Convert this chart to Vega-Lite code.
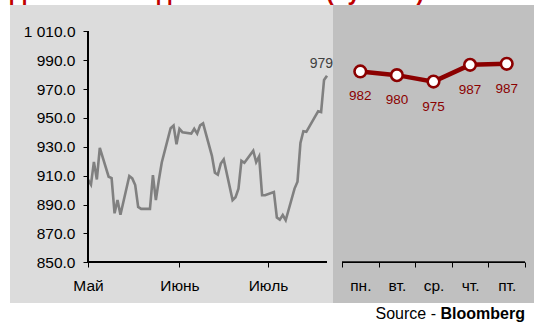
{
  "$schema": "https://vega.github.io/schema/vega-lite/v6.json",
  "padding": {"left": 10, "top": -18, "right": 2, "bottom": 0},
  "background": "white",
  "title": {
    "text": "Динамика индекса S&P 500 (пункты)",
    "anchor": "start",
    "color": "#C00000",
    "fontSize": 23,
    "fontWeight": "bold",
    "offset": 0
  },
  "datasets": {
    "sp500": [
      {"date": "2009-05-04", "close": 907.24},
      {"date": "2009-05-05", "close": 903.80},
      {"date": "2009-05-06", "close": 919.53},
      {"date": "2009-05-07", "close": 907.39},
      {"date": "2009-05-08", "close": 929.23},
      {"date": "2009-05-11", "close": 909.24},
      {"date": "2009-05-12", "close": 908.35},
      {"date": "2009-05-13", "close": 883.92},
      {"date": "2009-05-14", "close": 893.07},
      {"date": "2009-05-15", "close": 882.88},
      {"date": "2009-05-18", "close": 909.71},
      {"date": "2009-05-19", "close": 908.13},
      {"date": "2009-05-20", "close": 903.47},
      {"date": "2009-05-21", "close": 888.33},
      {"date": "2009-05-22", "close": 887.00},
      {"date": "2009-05-25", "close": 887.00},
      {"date": "2009-05-26", "close": 910.33},
      {"date": "2009-05-27", "close": 893.06},
      {"date": "2009-05-28", "close": 906.83},
      {"date": "2009-05-29", "close": 919.14},
      {"date": "2009-06-01", "close": 942.87},
      {"date": "2009-06-02", "close": 944.74},
      {"date": "2009-06-03", "close": 931.76},
      {"date": "2009-06-04", "close": 942.46},
      {"date": "2009-06-05", "close": 940.09},
      {"date": "2009-06-08", "close": 939.14},
      {"date": "2009-06-09", "close": 942.43},
      {"date": "2009-06-10", "close": 939.15},
      {"date": "2009-06-11", "close": 944.89},
      {"date": "2009-06-12", "close": 946.21},
      {"date": "2009-06-15", "close": 923.72},
      {"date": "2009-06-16", "close": 911.97},
      {"date": "2009-06-17", "close": 910.71},
      {"date": "2009-06-18", "close": 918.37},
      {"date": "2009-06-19", "close": 921.23},
      {"date": "2009-06-22", "close": 893.04},
      {"date": "2009-06-23", "close": 895.10},
      {"date": "2009-06-24", "close": 900.94},
      {"date": "2009-06-25", "close": 920.26},
      {"date": "2009-06-26", "close": 918.90},
      {"date": "2009-06-29", "close": 927.23},
      {"date": "2009-06-30", "close": 919.32},
      {"date": "2009-07-01", "close": 923.33},
      {"date": "2009-07-02", "close": 896.42},
      {"date": "2009-07-03", "close": 896.42},
      {"date": "2009-07-06", "close": 898.72},
      {"date": "2009-07-07", "close": 881.03},
      {"date": "2009-07-08", "close": 879.56},
      {"date": "2009-07-09", "close": 882.68},
      {"date": "2009-07-10", "close": 879.13},
      {"date": "2009-07-13", "close": 901.05},
      {"date": "2009-07-14", "close": 905.84},
      {"date": "2009-07-15", "close": 932.68},
      {"date": "2009-07-16", "close": 940.74},
      {"date": "2009-07-17", "close": 940.38},
      {"date": "2009-07-20", "close": 951.13},
      {"date": "2009-07-21", "close": 954.58},
      {"date": "2009-07-22", "close": 954.07},
      {"date": "2009-07-23", "close": 976.29},
      {"date": "2009-07-24", "close": 979.26}
    ],
    "week": [
      {"day": "пн.", "close": 982.18},
      {"day": "вт.", "close": 979.62},
      {"day": "ср.", "close": 975.15},
      {"day": "чт.", "close": 986.75},
      {"day": "пт.", "close": 987.48}
    ]
  },
  "vconcat": [
    {
      "hconcat": [
        {
          "width": 323,
          "height": 298,
          "view": {"fill": "#dcdcdc", "stroke": null},
          "data": {"name": "sp500"},
          "layer": [
            {
              "mark": {"type": "line", "color": "#808080", "strokeWidth": 2.6},
              "encoding": {
                "x": {
                  "field": "date",
                  "type": "temporal",
                  "scale": {
                    "type": "utc",
                    "domain": [
                      {"year": 2009, "month": 4, "date": 7, "hours": 13, "minutes": 34, "utc": true},
                      {"year": 2009, "month": 7, "date": 26, "hours": 0, "minutes": 48, "utc": true}
                    ]
                  },
                  "axis": {
                    "orient": "bottom",
                    "offset": -41,
                    "values": [
                      {"year": 2009, "month": 5, "date": 4, "utc": true},
                      {"year": 2009, "month": 6, "date": 4, "utc": true},
                      {"year": 2009, "month": 7, "date": 4, "utc": true}
                    ],
                    "tickCount": 20,
                    "labelExpr": "['Май', 'Июнь', 'Июль'][utcmonth(datum.value) - 4]",
                    "domain": false,
                    "grid": false,
                    "tickSize": 5,
                    "tickColor": "black",
                    "labelColor": "black",
                    "labelFontSize": 15.5,
                    "labelPadding": 11,
                    "labelFlush": false,
                    "labelOverlap": false,
                    "title": null
                  }
                },
                "y": {
                  "field": "close",
                  "type": "quantitative",
                  "scale": {"domain": [821.8, 1028.2], "nice": false, "zero": false},
                  "axis": {
                    "orient": "left",
                    "offset": -78,
                    "values": [850, 870, 890, 910, 930, 950, 970, 990, 1010],
                    "tickCount": 20,
                    "labelExpr": "replace(format(datum.value, ',.1f'), ',', ' ')",
                    "domain": false,
                    "grid": false,
                    "tickSize": 5,
                    "tickColor": "black",
                    "labelColor": "black",
                    "labelFontSize": 15.5,
                    "labelPadding": 8,
                    "labelOverlap": false,
                    "labelFlush": false,
                    "title": null
                  }
                }
              }
            },
            {
              "transform": [{"filter": "time(datum.date) == utc(2009, 6, 24)"}],
              "mark": {"type": "text", "align": "right", "baseline": "alphabetic", "dx": 6, "dy": -8, "fontSize": 14, "color": "#404040"},
              "encoding": {
                "x": {"field": "date", "type": "temporal"},
                "y": {"field": "close", "type": "quantitative"},
                "text": {"field": "close", "format": ".0f"}
              }
            },
            {
              "mark": {"type": "rule", "color": "black", "strokeWidth": 1},
              "encoding": {
                "x": {"datum": {"year": 2009, "month": 5, "date": 4, "utc": true}, "type": "temporal"},
                "y": {"datum": 850},
                "y2": {"datum": 1010}
              }
            },
            {
              "mark": {"type": "rule", "color": "black", "strokeWidth": 1},
              "encoding": {
                "x": {"datum": {"year": 2009, "month": 5, "date": 4, "utc": true}, "type": "temporal"},
                "x2": {"datum": {"year": 2009, "month": 7, "date": 24, "utc": true}},
                "y": {"datum": 850}
              }
            }
          ]
        },
        {
          "width": 201,
          "height": 298,
          "view": {"fill": "#c0c0c0", "stroke": null},
          "data": {"name": "week"},
          "encoding": {
            "x": {
              "field": "day",
              "type": "nominal",
              "scale": {
                "type": "band",
                "domain": ["пн.", "вт.", "ср.", "чт.", "пт."],
                "paddingInner": 0,
                "paddingOuter": 0.246
              },
              "axis": {
                "orient": "bottom",
                "offset": -41,
                "domain": false,
                "tickBand": "extent",
                "tickSize": 5,
                "tickColor": "black",
                "labelColor": "black",
                "labelFontSize": 15.5,
                "labelPadding": 11,
                "labelAngle": 0,
                "grid": false,
                "title": null
              }
            },
            "y": {
              "field": "close",
              "type": "quantitative",
              "scale": {"domain": [821.8, 1028.2], "nice": false, "zero": false},
              "axis": null
            }
          },
          "layer": [
            {
              "mark": {"type": "rule", "color": "black", "strokeWidth": 1},
              "encoding": {
                "x": {"datum": "пн.", "type": "nominal", "bandPosition": 0},
                "x2": {"datum": "пт.", "bandPosition": 1},
                "y": {"datum": 850}
              }
            },
            {"mark": {"type": "line", "color": "#8B0000", "strokeWidth": 4.5}},
            {
              "mark": {"type": "point", "filled": true, "fill": "white", "stroke": "#8B0000", "strokeWidth": 2.6, "size": 135, "opacity": 1}
            },
            {
              "mark": {"type": "text", "baseline": "alphabetic", "dy": 29, "fontSize": 13.5, "color": "#8B0000"},
              "encoding": {"text": {"field": "close", "format": ".0f"}}
            }
          ]
        }
      ],
      "spacing": 0,
      "bounds": "flush"
    },
    {
      "width": 524,
      "height": 21,
      "view": {"stroke": null},
      "data": {"values": [{"prefix": "Source -", "name": "Bloomberg"}]},
      "encoding": {
        "x": {"datum": 1, "type": "quantitative", "scale": {"domain": [0, 1]}, "axis": null},
        "y": {"datum": 0.5, "type": "quantitative", "scale": {"domain": [0, 1]}, "axis": null}
      },
      "layer": [
        {
          "mark": {"type": "text", "align": "right", "baseline": "middle", "dx": -9, "fontSize": 16, "fontWeight": "bold", "color": "black"},
          "encoding": {"text": {"field": "name"}}
        },
        {
          "mark": {"type": "text", "align": "right", "baseline": "middle", "dx": -98, "fontSize": 16, "color": "black"},
          "encoding": {"text": {"field": "prefix"}}
        }
      ]
    }
  ],
  "spacing": 0,
  "config": {
    "font": "Liberation Sans",
    "view": {"stroke": null},
    "axis": {"labelOverlap": false}
  }
}
